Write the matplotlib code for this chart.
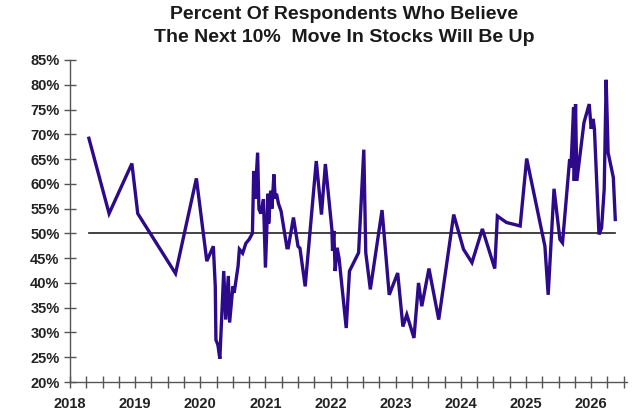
import numpy as np
import matplotlib.pyplot as plt
import matplotlib.ticker as ticker

plt.rcParams['font.family'] = ['Liberation Sans', 'DejaVu Sans']

# survey dates (decimal years) and % of respondents expecting the next 10% move to be up
dates = [2018.29, 2018.60, 2018.95, 2019.04, 2019.62, 2019.94, 2020.10, 2020.20,
         2020.23, 2020.24, 2020.27, 2020.30, 2020.36, 2020.39, 2020.43, 2020.45,
         2020.50, 2020.52, 2020.58, 2020.60, 2020.65, 2020.70, 2020.75, 2020.80,
         2020.82, 2020.84, 2020.88, 2020.90, 2020.93, 2020.97, 2021.00, 2021.04,
         2021.05, 2021.08, 2021.10, 2021.13, 2021.15, 2021.17, 2021.20, 2021.24,
         2021.33, 2021.35, 2021.43, 2021.50, 2021.53, 2021.61, 2021.78, 2021.86,
         2021.92, 2022.02, 2022.03, 2022.05, 2022.07, 2022.10, 2022.13, 2022.24,
         2022.29, 2022.43, 2022.51, 2022.54, 2022.61, 2022.79, 2022.90, 2023.03,
         2023.11, 2023.17, 2023.28, 2023.35, 2023.40, 2023.51, 2023.66, 2023.89,
         2024.04, 2024.17, 2024.33, 2024.52, 2024.56, 2024.70, 2024.91, 2025.01,
         2025.29, 2025.34, 2025.43, 2025.52, 2025.56, 2025.67, 2025.69, 2025.73,
         2025.74, 2025.76, 2025.78, 2025.89, 2025.97, 2026.00, 2026.03, 2026.05,
         2026.12, 2026.16, 2026.20, 2026.23, 2026.26, 2026.34, 2026.37]
pct = [69.2, 54.0, 64.1, 54.0, 41.9, 61.1, 44.4, 47.4,
       39.3, 28.5, 27.5, 24.7, 42.4, 32.6, 41.4, 32.0,
       39.3, 38.0, 43.4, 46.8, 46.0, 48.0, 48.8, 50.0,
       62.6, 57.0, 66.3, 54.9, 54.0, 56.9, 43.1, 58.0,
       52.0, 58.6, 55.0, 61.9, 57.0, 58.0, 56.0, 54.5,
       47.1, 47.1, 53.2, 47.4, 47.0, 39.3, 64.6, 53.8,
       64.0, 50.8, 46.5, 50.5, 42.4, 47.1, 45.0, 30.9,
       42.4, 46.1, 66.9, 46.1, 38.7, 54.7, 37.6, 42.0,
       31.2, 33.6, 28.9, 40.0, 35.3, 42.9, 32.6, 53.8,
       46.8, 44.1, 50.9, 42.9, 53.5, 52.2, 51.5, 65.1,
       47.4, 37.6, 59.0, 48.8, 48.1, 65.0, 63.3, 75.4,
       60.6, 76.1, 60.6, 72.4, 76.1, 71.1, 73.1, 71.1,
       49.8, 51.1, 58.9, 81.0, 66.3, 61.3, 52.8]

ref_x = [2018.29, 2026.37]
ref_y = [50, 50]

fig = plt.figure(figsize=(6.44, 4.18), dpi=100)
ax = fig.add_axes([0.1087, 0.0861, 0.8649, 0.7704])

ax.plot(ref_x, ref_y, color='#222222', lw=1.2, zorder=2)
ax.plot(dates, pct, color='#2d0a8a', lw=2.4, solid_joinstyle='miter', zorder=3)

ax.set_xlim(2018, 2026.55)
ax.set_ylim(20, 85)
ax.xaxis.set_major_locator(ticker.MultipleLocator(1))
ax.xaxis.set_minor_locator(ticker.MultipleLocator(0.25))
ax.yaxis.set_major_locator(ticker.MultipleLocator(5))
ax.xaxis.set_major_formatter(ticker.FuncFormatter(lambda v, p: f"{int(round(v))}"))
ax.yaxis.set_major_formatter(ticker.FuncFormatter(lambda v, p: f"{int(v)}%"))

for s in ['top', 'right']:
    ax.spines[s].set_visible(False)
for s in ['left', 'bottom']:
    ax.spines[s].set_color('#555555')
    ax.spines[s].set_linewidth(1.0)

ax.tick_params(axis='both', which='both', direction='inout', color='#555555', width=1.0)
ax.tick_params(axis='x', which='major', length=9, pad=6)
ax.tick_params(axis='x', which='minor', length=9)
ax.tick_params(axis='y', length=9, pad=3)
for lab in ax.get_xticklabels() + ax.get_yticklabels():
    lab.set_fontsize(10.5)
    lab.set_fontweight('bold')
    lab.set_color('#222222')

fig.text(0.535, 0.965, "Percent Of Respondents Who Believe", ha='center', va='center',
         fontsize=14, fontweight='bold', color='#1a1a1a')
fig.text(0.535, 0.91, "The Next 10%  Move In Stocks Will Be Up", ha='center', va='center',
         fontsize=14, fontweight='bold', color='#1a1a1a')

fig.savefig('out.png', dpi=100)
